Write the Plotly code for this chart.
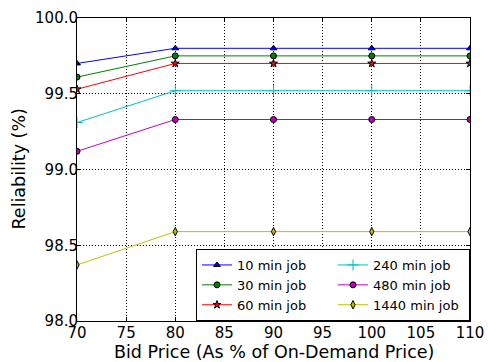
import plotly.graph_objects as go

# Bid price as a percentage of the on-demand price
bid_price = [70, 80, 90, 100, 110]

# Reliability (%) per job length
rel_10 = [99.70, 99.80, 99.80, 99.80, 99.80]
rel_30 = [99.61, 99.75, 99.75, 99.75, 99.75]
rel_60 = [99.53, 99.70, 99.70, 99.70, 99.70]
rel_240 = [99.31, 99.52, 99.52, 99.52, 99.52]
rel_480 = [99.12, 99.33, 99.33, 99.33, 99.33]
rel_1440 = [98.37, 98.59, 98.59, 98.59, 98.59]

x_ticks = [70, 75, 80, 85, 90, 95, 100, 105, 110]
y_ticks = [98.0, 98.5, 99.0, 99.5, 100.0]

x_title = "Bid Price (As % of On-Demand Price)"
y_title = "Reliability (%)"

# legendrank interleaves the two legend columns
series = [
    ("10 min job", rel_10, "#0000ff", "triangle-up", 1),
    ("240 min job", rel_240, "#00bfbf", "cross-thin", 2),
    ("30 min job", rel_30, "#008000", "circle", 3),
    ("480 min job", rel_480, "#bf00bf", "circle", 4),
    ("60 min job", rel_60, "#ff0000", "star", 5),
    ("1440 min job", rel_1440, "#bfbf00", "diamond-tall", 6),
]

fig = go.Figure()
for name, vals, color, symbol, rank in series:
    thin = symbol == "cross-thin"
    fig.add_trace(go.Scatter(
        x=bid_price, y=vals, name=name, mode="lines+markers",
        legendrank=rank,
        line=dict(color=color, width=1),
        marker=dict(
            symbol=symbol, size=8 if thin else 6, color=color,
            line=dict(color=color if thin else "black", width=1),
        ),
        cliponaxis=True,
    ))

axis_common = dict(
    showgrid=True, gridcolor="black", griddash="1px,2px", gridwidth=1,
    showline=True, linecolor="black", linewidth=1, mirror="allticks",
    ticks="inside", ticklen=4, tickcolor="black",
    tickfont=dict(family="DejaVu Sans", size=15, color="black"),
    zeroline=False, automargin=False,
)

fig.update_xaxes(
    range=[70, 110], tickvals=x_ticks, ticktext=[str(v) for v in x_ticks],
    ticklabelstandoff=-2,
    **axis_common,
)
fig.update_yaxes(
    range=[98.0, 100.0], tickvals=y_ticks, ticktext=[f"{v:.1f}" for v in y_ticks],
    ticklabelstandoff=-5,
    **axis_common,
)

title_font = dict(family="DejaVu Sans", size=17.5, color="black")
fig.add_annotation(
    text=x_title, xref="paper", yref="paper", x=0.5, y=0,
    xanchor="center", yanchor="middle", yshift=-31, showarrow=False,
    font=title_font,
)
fig.add_annotation(
    text=y_title, xref="paper", yref="paper", x=0, y=0.5,
    xanchor="center", yanchor="middle", xshift=-59, textangle=-90,
    showarrow=False, font=title_font,
)

fig.update_layout(
    width=488, height=362,
    margin=dict(l=77, r=18, t=18, b=41),
    paper_bgcolor="white", plot_bgcolor="white",
    font=dict(family="DejaVu Sans", color="black"),
    legend=dict(
        orientation="h", x=1.0, y=0.0, xanchor="right", yanchor="bottom",
        entrywidth=91, entrywidthmode="pixels",
        bgcolor="white", bordercolor="black", borderwidth=1,
        font=dict(family="DejaVu Sans", size=13, color="black"),
        tracegroupgap=0, itemwidth=30,
    ),
    showlegend=True,
)

fig.write_html("out.html")
